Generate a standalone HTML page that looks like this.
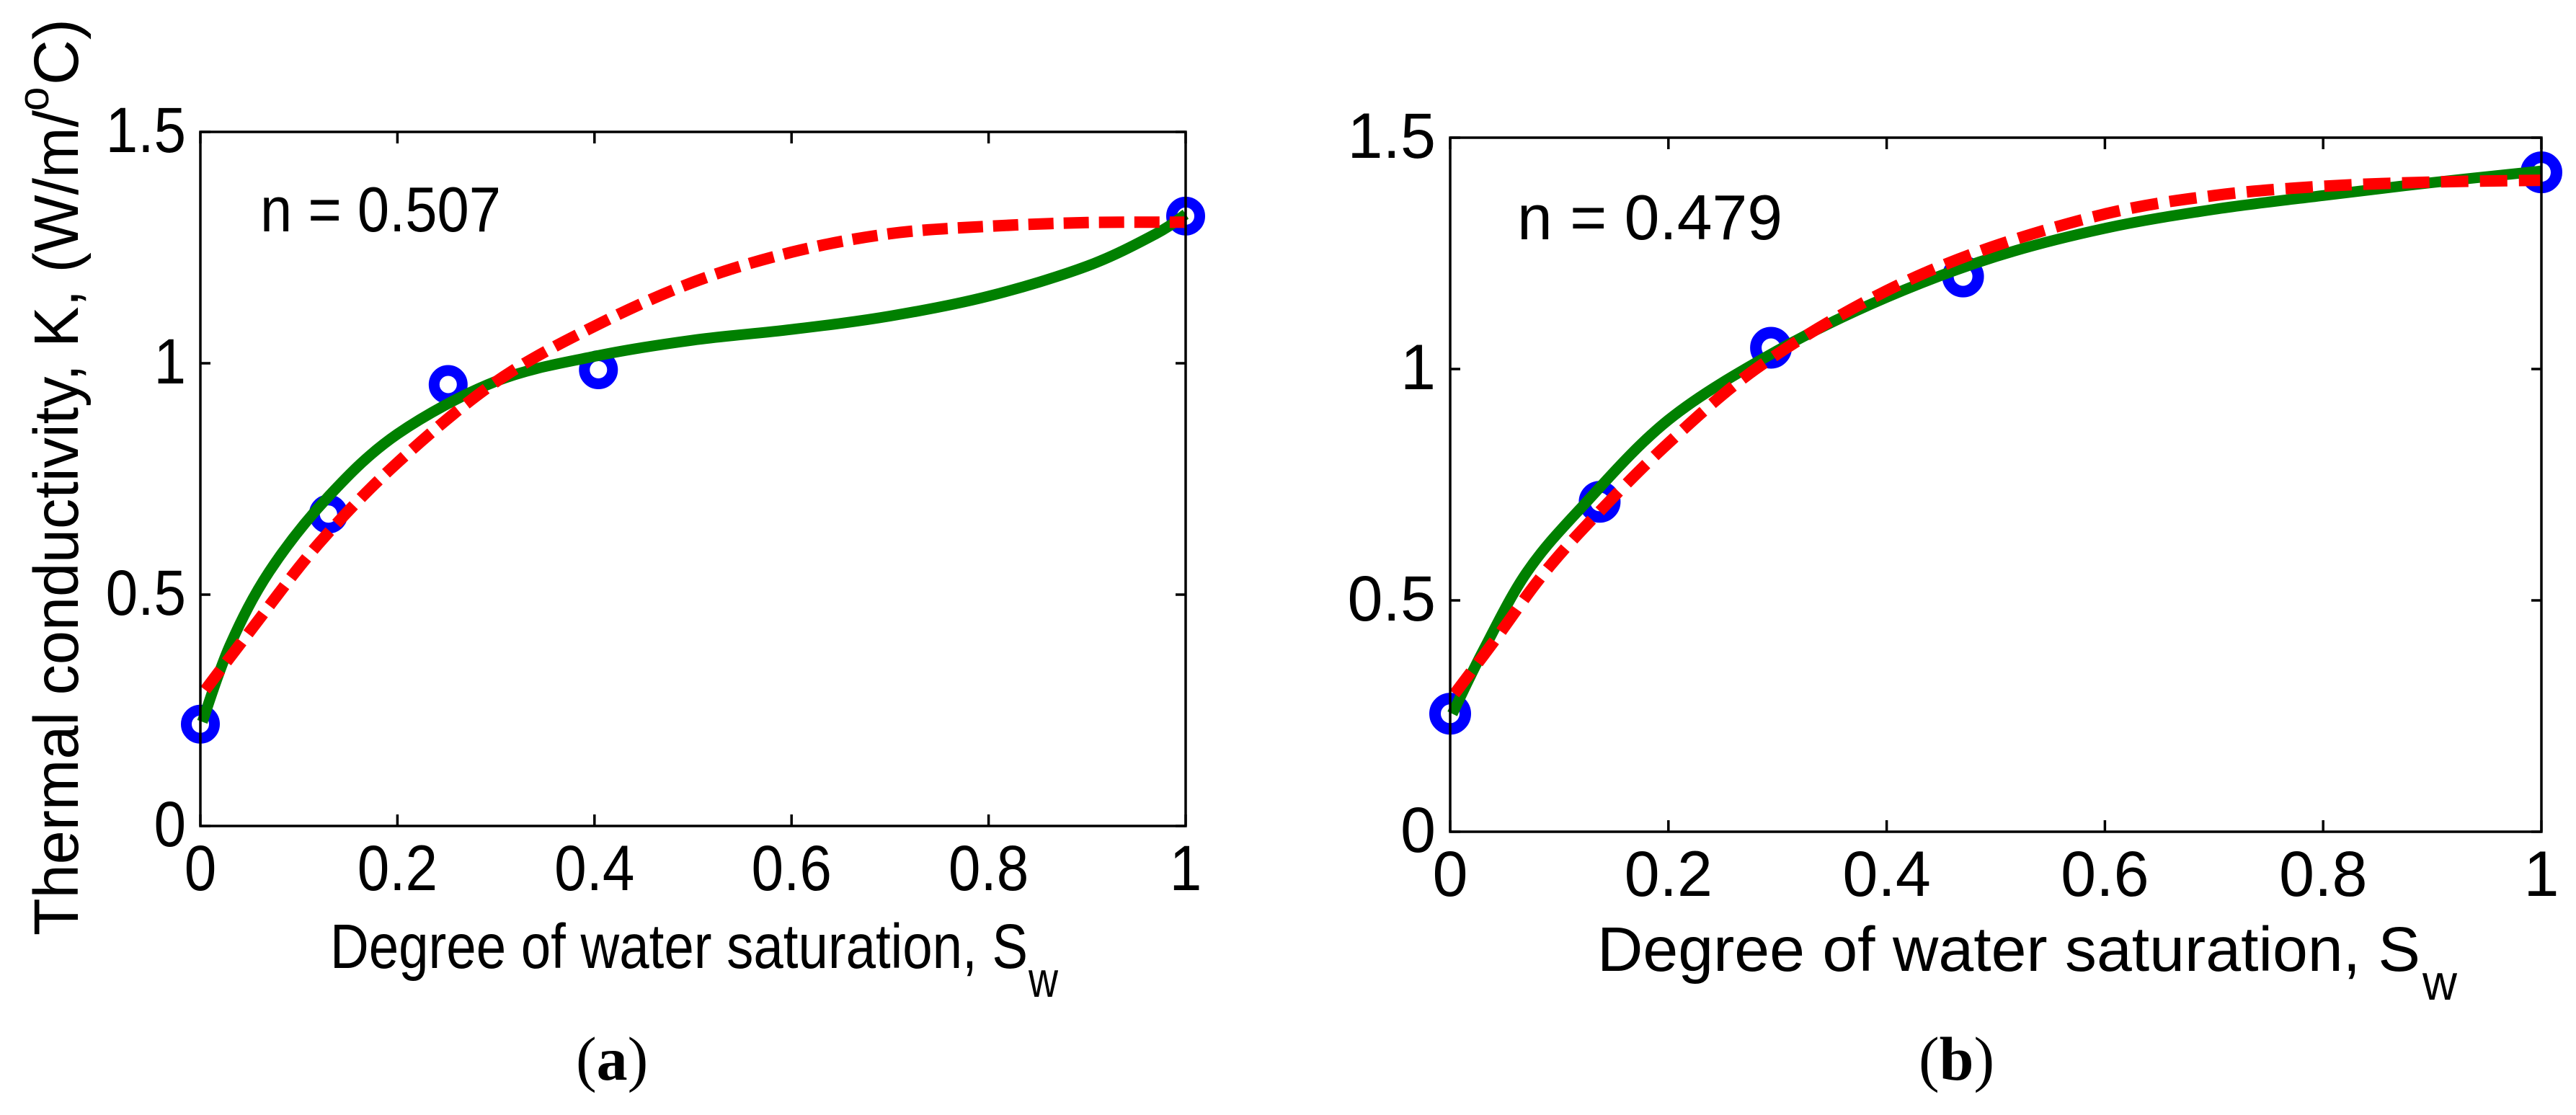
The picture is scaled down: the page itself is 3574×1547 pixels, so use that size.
<!DOCTYPE html>
<html lang="en">
<head>
<meta charset="utf-8">
<title>Thermal conductivity vs degree of water saturation</title>
<style>
html,body{margin:0;padding:0;background:#fff;}
svg{display:block;}
text{font-family:"Liberation Sans",Arial,sans-serif;fill:#000;}
.cap{font-family:"Liberation Serif","Times New Roman",serif;font-size:86px;}
</style>
</head>
<body>
<svg id="figure" xmlns="http://www.w3.org/2000/svg" width="3574" height="1547" viewBox="0 0 3574 1547">
  <rect x="0" y="0" width="3574" height="1547" fill="#fff"/>

  <g id="panel-a"></g>
  <g id="panel-b"></g>

  <!-- panel a static text -->
  <g>
    <text transform="translate(108,1298) rotate(-90)" font-size="87" textLength="1145" lengthAdjust="spacingAndGlyphs">Thermal conductivity, K, (W/m/</text>
    <text transform="translate(67,154) rotate(-90)" font-size="60">o</text>
    <text transform="translate(108,118) rotate(-90)" font-size="87">C)</text>
  </g>
  <g>
    <text x="458" y="1343" font-size="87" textLength="968" lengthAdjust="spacingAndGlyphs">Degree of water saturation, S</text>
    <text x="1427" y="1383" font-size="70" textLength="41" lengthAdjust="spacingAndGlyphs">w</text>
  </g>
  <text x="361" y="321" font-size="88" textLength="334" lengthAdjust="spacingAndGlyphs">n = 0.507</text>
  <text class="cap" x="799" y="1498">(<tspan font-weight="bold">a</tspan>)</text>

  <!-- panel b static text -->
  <g>
    <text x="2216" y="1347" font-size="87" textLength="1142" lengthAdjust="spacingAndGlyphs">Degree of water saturation, S</text>
    <text x="3361" y="1387" font-size="70" textLength="48" lengthAdjust="spacingAndGlyphs">w</text>
  </g>
  <text x="2105" y="332" font-size="88" textLength="368" lengthAdjust="spacingAndGlyphs">n = 0.479</text>
  <text class="cap" x="2662" y="1498">(<tspan font-weight="bold">b</tspan>)</text>
</svg>

<script>
// Axis data
const xTickValues = [0, 0.2, 0.4, 0.6, 0.8, 1];
const xTickLabels = ['0', '0.2', '0.4', '0.6', '0.8', '1'];
const yTickValues = [0, 0.5, 1, 1.5];
const yTickLabels = ['0', '0.5', '1', '1.5'];

// Panel (a) series
const measuredSwA = [0, 0.13, 0.2515, 0.404, 1];
const measuredKA = [0.22, 0.674, 0.954, 0.986, 1.318];
const greenSwA = [0.002, 0.03, 0.07, 0.13, 0.2, 0.3, 0.4, 0.5, 0.6, 0.7, 0.8, 0.9, 0.97, 1];
const greenKA = [0.225, 0.39, 0.55, 0.712, 0.847, 0.961, 1.015, 1.05, 1.073, 1.102, 1.145, 1.21, 1.28, 1.322];
const redSwA = [0.005, 0.05, 0.12, 0.2, 0.3, 0.4, 0.5, 0.6, 0.7, 0.8, 0.9, 1];
const redKA = [0.294, 0.42, 0.61, 0.785, 0.96, 1.08, 1.175, 1.24, 1.28, 1.296, 1.304, 1.305];

// Panel (b) series
const measuredSwB = [0, 0.137, 0.294, 0.47, 1];
const measuredKB = [0.255, 0.713, 1.046, 1.2, 1.425];
const greenSwB = [0.002, 0.03, 0.07, 0.12, 0.2, 0.3, 0.4, 0.5, 0.6, 0.7, 0.8, 0.9, 1];
const greenKB = [0.255, 0.39, 0.56, 0.7, 0.89, 1.04, 1.155, 1.243, 1.304, 1.345, 1.375, 1.403, 1.428];
const redSwB = [0.004, 0.04, 0.084, 0.13, 0.2, 0.28, 0.38, 0.48, 0.6, 0.7, 0.8, 0.9, 1];
const redKB = [0.298, 0.411, 0.553, 0.675, 0.84, 1.0, 1.145, 1.25, 1.335, 1.375, 1.395, 1.404, 1.408];

const SVG_NS = 'http://www.w3.org/2000/svg';

function makeEl(parent, tag, attrs) {
  const el = document.createElementNS(SVG_NS, tag);
  for (const k in attrs) el.setAttribute(k, attrs[k]);
  parent.appendChild(el);
  return el;
}

function smoothPath(xs, ys) {
  let d = 'M' + xs[0].toFixed(1) + ' ' + ys[0].toFixed(1);
  for (let i = 0; i < xs.length - 1; i++) {
    const i0 = Math.max(0, i - 1), i3 = Math.min(xs.length - 1, i + 2);
    const c1x = xs[i] + (xs[i + 1] - xs[i0]) / 6, c1y = ys[i] + (ys[i + 1] - ys[i0]) / 6;
    const c2x = xs[i + 1] - (xs[i3] - xs[i]) / 6, c2y = ys[i + 1] - (ys[i3] - ys[i]) / 6;
    d += 'C' + c1x.toFixed(1) + ' ' + c1y.toFixed(1) + ' ' + c2x.toFixed(1) + ' ' + c2y.toFixed(1) + ' ' + xs[i + 1].toFixed(1) + ' ' + ys[i + 1].toFixed(1);
  }
  return d;
}

function drawPanel(group, box, measuredSw, measuredK, greenSw, greenK, redSw, redK) {
  const scaleX = v => box.left + v * (box.right - box.left);
  const scaleY = v => box.bottom - (v / 1.5) * (box.bottom - box.top);

  // Measured points (drawn first: sit under curves and axes)
  const pointsGroup = makeEl(group, 'g', {});
  
  
  measuredSw.forEach((sw, i) => {
    const c = makeEl(pointsGroup, 'circle', {
      cx: scaleX(sw), cy: scaleY(measuredK[i]), r: box.markerRadius,
      fill: 'none', stroke: '#0000ff', 'stroke-width': box.markerStroke
    });
    
    
  });

  const green = makeEl(group, 'path', {
    d: smoothPath(greenSw.map(scaleX), greenK.map(scaleY)),
    fill: 'none', stroke: '#008000', 'stroke-width': 15, 'stroke-linejoin': 'round'
  });
  
  

  const red = makeEl(group, 'path', {
    d: smoothPath(redSw.map(scaleX), redK.map(scaleY)),
    fill: 'none', stroke: '#ff0000', 'stroke-width': 16, 'stroke-dasharray': box.dash
  });
  
  

  // Axes box
  const frame = makeEl(group, 'rect', {
    x: box.left, y: box.top, width: box.right - box.left, height: box.bottom - box.top,
    fill: 'none', stroke: '#000', 'stroke-width': 3.5
  });
  
  

  // X ticks and labels
  xTickValues.forEach((v, i) => {
    const x = scaleX(v);
    const tickBottom = makeEl(group, 'line', { x1: x, x2: x, y1: box.bottom, y2: box.bottom - 16, stroke: '#000', 'stroke-width': 3.5 });
    
    
    const tickTop = makeEl(group, 'line', { x1: x, x2: x, y1: box.top, y2: box.top + 16, stroke: '#000', 'stroke-width': 3.5 });
    
    
    const label = makeEl(group, 'text', {
      transform: 'translate(' + x + ',' + (box.bottom + 89) + ') scale(' + box.labelScale + ',1)',
      'text-anchor': 'middle', 'font-size': 89
    });
    label.textContent = xTickLabels[i];
    
    
  });

  // Y ticks and labels
  yTickValues.forEach((v, i) => {
    const y = scaleY(v);
    const tickLeft = makeEl(group, 'line', { x1: box.left, x2: box.left + 14, y1: y, y2: y, stroke: '#000', 'stroke-width': 3.5 });
    
    
    const tickRight = makeEl(group, 'line', { x1: box.right, x2: box.right - 14, y1: y, y2: y, stroke: '#000', 'stroke-width': 3.5 });
    
    
    const label = makeEl(group, 'text', {
      transform: 'translate(' + (box.left - 20) + ',' + (y + 28) + ') scale(' + box.labelScale + ',1)',
      'text-anchor': 'end', 'font-size': 89
    });
    label.textContent = yTickLabels[i];
    
    
  });
}

drawPanel(document.getElementById('panel-a'),
  { left: 278, right: 1645, top: 183, bottom: 1146, labelScale: 0.9, markerRadius: 19.5, markerStroke: 15, dash: '35 14' },
  measuredSwA, measuredKA, greenSwA, greenKA, redSwA, redKA);
drawPanel(document.getElementById('panel-b'),
  { left: 2012, right: 3526, top: 191, bottom: 1154, labelScale: 0.99, markerRadius: 21, markerStroke: 16, dash: '38 16' },
  measuredSwB, measuredKB, greenSwB, greenKB, redSwB, redKB);
</script>
</body>
</html>
